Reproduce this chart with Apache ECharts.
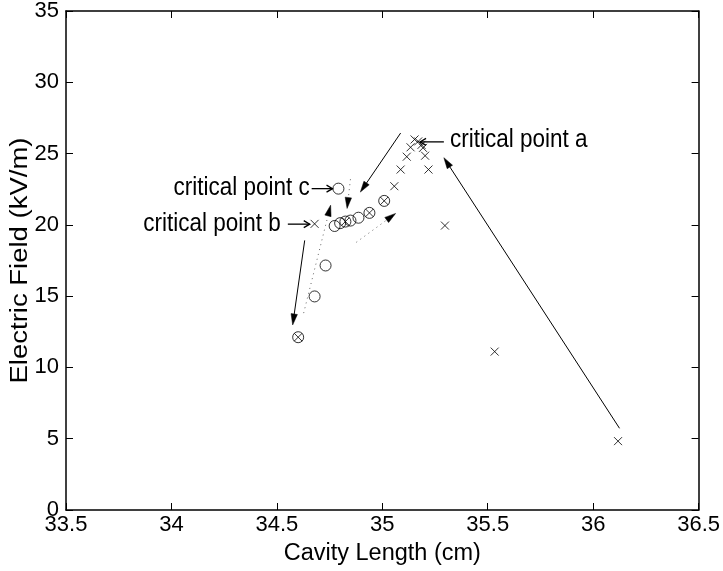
<!DOCTYPE html>
<html>
<head>
<meta charset="utf-8">
<script src="https://cdn.jsdelivr.net/npm/echarts@6/dist/echarts.min.js"></script>
<style>
  html, body { margin: 0; padding: 0; background: #fff; }
  #chart { width: 723px; height: 571px; }
</style>
</head>
<body>
<div id="chart"></div>
<script>
// Measured field strength vs cavity length
const crossX = [35.057, 35.087, 35.116, 35.134, 35.153, 35.170, 35.186, 35.193, 35.203, 35.219, 35.297, 35.533, 36.118, 34.679, 34.939, 35.009, 34.601, 34.825];
const crossY = [22.71, 23.88, 24.78, 25.44, 25.99, 25.85, 25.61, 25.40, 24.85, 23.88, 19.95, 11.11, 4.83, 20.07, 20.84, 21.68, 12.12, 20.23];
const circleX = [34.792, 34.774, 34.800, 34.825, 34.849, 34.887, 34.939, 35.009, 34.731, 34.679, 34.601];
const circleY = [22.54, 19.92, 20.12, 20.23, 20.30, 20.50, 20.84, 21.68, 17.15, 14.98, 12.12];

// Axis ticks
const xTicks = [33.5, 34, 34.5, 35, 35.5, 36, 36.5];
const yTicks = [0, 5, 10, 15, 20, 25, 30, 35];

// Sweep-direction arrows: [x start, y start, x end, y end]
const solidArrows = [
  [35.087, 26.44, 34.896, 22.30],
  [36.125, 5.73, 35.292, 24.71],
  [34.632, 18.91, 34.575, 12.98]
];
const dottedArrows = [
  [34.627, 13.81, 34.755, 21.38],
  [34.849, 23.20, 34.833, 21.15],
  [34.877, 18.78, 35.063, 20.80]
];
// Short pointers from the notes to the critical points
const pointerArrows = [
  [35.292, 25.82, 35.179, 25.82],
  [34.665, 22.54, 34.764, 22.54],
  [34.552, 20.05, 34.656, 20.05]
];

// Annotation texts and their anchor points
const noteText = ['critical point a', 'critical point c', 'critical point b'];
const noteX = [35.321, 34.656, 34.519];
const noteY = [25.96, 22.60, 20.05];

const yTitle = 'Electric Field (kV/m)';
const xTitle = 'Cavity Length (cm)';

const FONT = '"Liberation Sans", Arial, Helvetica, sans-serif';
const noteAlign = ['left', 'right', 'right'];

function arrowRenderer(kind) {
  return function (params, api) {
    const p0 = api.coord([api.value(0), api.value(1)]);
    const p1 = api.coord([api.value(2), api.value(3)]);
    const dx = p1[0] - p0[0], dy = p1[1] - p0[1];
    const len = Math.hypot(dx, dy) || 1;
    const ux = dx / len, uy = dy / len;
    if (kind === 'open') {
      const hl = 6, hw = 3.5;
      const bx = p1[0] - ux * hl, by = p1[1] - uy * hl;
      return {
        type: 'group',
        children: [
          { type: 'line', shape: { x1: p0[0], y1: p0[1], x2: p1[0], y2: p1[1] },
            style: { stroke: '#000', lineWidth: 1.3 } },
          { type: 'polyline',
            shape: { points: [[bx - uy * hw, by + ux * hw], [p1[0], p1[1]], [bx + uy * hw, by - ux * hw]] },
            style: { stroke: '#000', lineWidth: 1.3, fill: null } }
        ]
      };
    }
    const dotted = kind === 'dotted';
    const hl = 11, hw = 3.2;
    const bx = p1[0] - ux * hl, by = p1[1] - uy * hl;
    return {
      type: 'group',
      children: [
        {
          type: 'line',
          shape: { x1: p0[0], y1: p0[1], x2: bx, y2: by },
          style: { stroke: dotted ? '#666' : '#000', lineWidth: 1, lineDash: dotted ? [1, 4] : null }
        },
        {
          type: 'polygon',
          shape: { points: [[p1[0], p1[1]], [bx - uy * hw, by + ux * hw], [bx + uy * hw, by - ux * hw]] },
          style: { fill: '#000', stroke: '#000', lineWidth: 0.5 }
        }
      ]
    };
  };
}

const chart = echarts.init(document.getElementById('chart'), null, { renderer: 'canvas' });

const baseAxisLabel = { color: '#000', fontSize: 22, fontFamily: FONT };
const frameLine = { color: '#000', width: 1.5 };

chart.setOption({
  animation: false,
  backgroundColor: '#fff',
  grid: { left: 66, right: 21, top: 11, bottom: 53, containLabel: false },
  xAxis: [
    {
      type: 'value', min: xTicks[0], max: xTicks[xTicks.length - 1], interval: 0.5,
      axisLine: { show: true, onZero: false, lineStyle: frameLine },
      axisTick: { show: true, inside: true, length: 7, lineStyle: { color: '#000' } },
      axisLabel: Object.assign({ margin: 4, showMinLabel: true, showMaxLabel: true }, baseAxisLabel),
      splitLine: { show: false },
      name: xTitle, nameLocation: 'middle', nameGap: 32,
      nameTextStyle: { color: '#000', fontSize: 23.5, fontFamily: FONT }
    },
    {
      type: 'value', position: 'top', min: xTicks[0], max: xTicks[xTicks.length - 1], interval: 0.5,
      axisLine: { show: true, onZero: false, lineStyle: frameLine },
      axisTick: { show: true, inside: true, length: 7, lineStyle: { color: '#000' } },
      axisLabel: { show: false }, splitLine: { show: false }
    }
  ],
  yAxis: [
    {
      type: 'value', min: yTicks[0], max: yTicks[yTicks.length - 1], interval: 5,
      axisLine: { show: true, onZero: false, lineStyle: frameLine },
      axisTick: { show: true, inside: true, length: 7, lineStyle: { color: '#000' } },
      axisLabel: Object.assign({ margin: 7, showMinLabel: true, showMaxLabel: true }, baseAxisLabel),
      splitLine: { show: false }
    },
    {
      type: 'value', position: 'right', min: yTicks[0], max: yTicks[yTicks.length - 1], interval: 5,
      axisLine: { show: true, onZero: false, lineStyle: frameLine },
      axisTick: { show: true, inside: true, length: 7, lineStyle: { color: '#000' } },
      axisLabel: { show: false }, splitLine: { show: false }
    }
  ],
  series: [
    {
      type: 'custom', name: 'dotted', silent: true, clip: false,
      renderItem: arrowRenderer('dotted'),
      encode: { x: [0, 2], y: [1, 3] },
      data: dottedArrows
    },
    {
      type: 'custom', name: 'arrows', silent: true, clip: false,
      renderItem: arrowRenderer('solid'),
      encode: { x: [0, 2], y: [1, 3] },
      data: solidArrows
    },
    {
      type: 'custom', name: 'pointers', silent: true, clip: false,
      renderItem: arrowRenderer('open'),
      encode: { x: [0, 2], y: [1, 3] },
      data: pointerArrows
    },
    {
      type: 'scatter', name: 'circles', silent: true,
      symbol: 'circle', symbolSize: 11,
      itemStyle: { color: 'rgba(0,0,0,0)', borderColor: '#000', borderWidth: 1 },
      emphasis: { disabled: true },
      data: circleX.map((x, i) => [x, circleY[i]])
    },
    {
      type: 'scatter', name: 'crosses', silent: true,
      symbol: 'path://M0,0L10,10M10,0L0,10', symbolSize: 8,
      itemStyle: { color: 'rgba(0,0,0,0)', borderColor: '#000', borderWidth: 1 },
      emphasis: { disabled: true },
      data: crossX.map((x, i) => [x, crossY[i]])
    },
    {
      type: 'custom', name: 'notes', silent: true, clip: false,
      encode: { x: 0, y: 1 },
      data: noteX.map((x, i) => [x, noteY[i]]),
      renderItem: function (params, api) {
        const p = api.coord([api.value(0), api.value(1)]);
        return {
          type: 'text', x: p[0], y: p[1], scaleY: 1.12,
          style: {
            text: noteText[params.dataIndex], fill: '#000',
            font: '22.5px ' + FONT,
            align: noteAlign[params.dataIndex], verticalAlign: 'middle'
          }
        };
      }
    }
  ]
});

// Vertical axis title, centred on the value axis and stretched along its length
const mid = chart.convertToPixel({ gridIndex: 0 }, [xTicks[0], (yTicks[0] + yTicks[yTicks.length - 1]) / 2]);
chart.setOption({
  graphic: [{
    type: 'text', silent: true,
    x: mid[0] - 45, y: mid[1],
    rotation: Math.PI / 2, scaleX: 1.17,
    style: { text: yTitle, fill: '#000', font: '23.5px ' + FONT, align: 'center', verticalAlign: 'middle' }
  }]
});
</script>
</body>
</html>
